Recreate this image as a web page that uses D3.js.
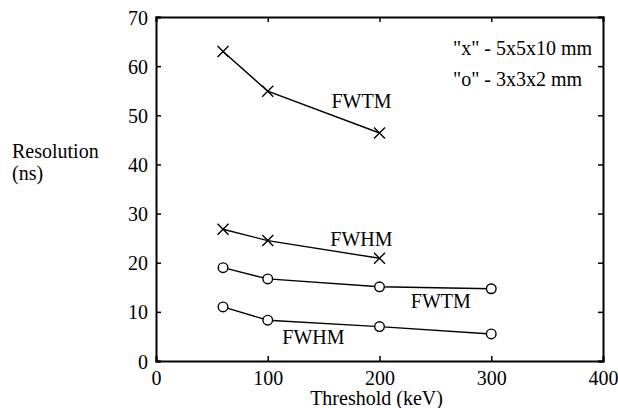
<!DOCTYPE html>
<html><head><meta charset="utf-8">
<script src="https://cdn.jsdelivr.net/npm/d3@7"></script>
<style>svg text{font-family:'Liberation Serif',serif !important;}</style>
</head><body style="margin:0">
<svg id="c" width="618" height="408"></svg>
<script>
const thresholds = [60, 100, 200, 300];
const fwtmLarge = [63.0, 54.9, 46.4];
const fwhmLarge = [26.8, 24.5, 20.9];
const fwtmSmall = [19.0, 16.7, 15.1, 14.7];
const fwhmSmall = [11.0, 8.3, 7.0, 5.5];
const xTicks = [0, 100, 200, 300, 400];
const yTicks = [0, 10, 20, 30, 40, 50, 60, 70];
const legendLines = ['"x" - 5x5x10 mm', '"o" - 3x3x2 mm'];

const FONT = "Liberation Serif";
const svg = d3.select("#c");
const L = 156, R = 603, T = 17, B = 361;
const x = d3.scaleLinear().domain([0, 400]).range([L, R]);
const y = d3.scaleLinear().domain([0, 70]).range([B, T]);
const fs = 20;

// axes
const gB = svg.append("g").attr("transform", `translate(0,${B})`)
  .call(d3.axisBottom(x).tickValues(xTicks).tickSize(-5).tickPadding(10).tickFormat(d3.format("d")));
const gT = svg.append("g").attr("transform", `translate(0,${T})`)
  .call(d3.axisTop(x).tickValues(xTicks).tickSize(-5).tickFormat(""));
const gL = svg.append("g").attr("transform", `translate(${L},0)`)
  .call(d3.axisLeft(y).tickValues(yTicks).tickSize(-5).tickPadding(8).tickFormat(d3.format("d")));
const gR = svg.append("g").attr("transform", `translate(${R},0)`)
  .call(d3.axisRight(y).tickValues(yTicks).tickSize(-5).tickFormat(""));
[gB, gT, gL, gR].forEach(g => {
  g.attr("font-family", FONT).attr("font-size", fs);
  g.select(".domain").attr("stroke", "#000").attr("stroke-width", 2);
  g.selectAll(".tick line").attr("stroke", "#000").attr("stroke-width", 1.5);
  g.selectAll("text").attr("font-size", fs).attr("font-family", FONT)
    .style("font-family", FONT).attr("fill", "#000");
});
gL.selectAll("text").attr("dy", "0.35em");

// series
const series = [
  {vals: fwtmLarge, mark: "x"},
  {vals: fwhmLarge, mark: "x"},
  {vals: fwtmSmall, mark: "o"},
  {vals: fwhmSmall, mark: "o"}
];
const line = d3.line().x((d, i) => x(thresholds[i])).y(d => y(d));
series.forEach(s => {
  svg.append("path").attr("d", line(s.vals)).attr("fill", "none").attr("stroke", "#000").attr("stroke-width", 1.4);
  const g = svg.append("g");
  s.vals.forEach((v, i) => {
    const cx = x(thresholds[i]), cy = y(v);
    if (s.mark === "x") {
      const h = 5.5;
      g.append("path").attr("d", `M${cx-h},${cy-h}L${cx+h},${cy+h}M${cx-h},${cy+h}L${cx+h},${cy-h}`)
        .attr("stroke", "#000").attr("stroke-width", 1.4);
    } else {
      g.append("circle").attr("cx", cx).attr("cy", cy).attr("r", 4.8)
        .attr("fill", "#fff").attr("stroke", "#000").attr("stroke-width", 1.4);
    }
  });
});

function txt(xp, yp, t, anchor) {
  return svg.append("text").attr("x", xp).attr("y", yp).attr("font-size", fs)
    .attr("font-family", FONT).style("font-family", FONT).attr("fill", "#000")
    .attr("text-anchor", anchor || "start").text(t);
}

// curve labels
const labels = [
  {t: "FWTM", xv: 157, yv: 51.5},
  {t: "FWHM", xv: 156, yv: 23.5},
  {t: "FWTM", xv: 228, yv: 10.7},
  {t: "FWHM", xv: 113, yv: 3.5}
];
labels.forEach(l => txt(x(l.xv), y(l.yv), l.t));

// legend
legendLines.forEach((t, i) => txt(453, 55 + i * 31, t));

// axis titles
txt(12, 158, "Resolution");
txt(12, 180, "(ns)");
txt((L + R) / 2 - 3, 405, "Threshold (keV)", "middle");
</script></body></html>
